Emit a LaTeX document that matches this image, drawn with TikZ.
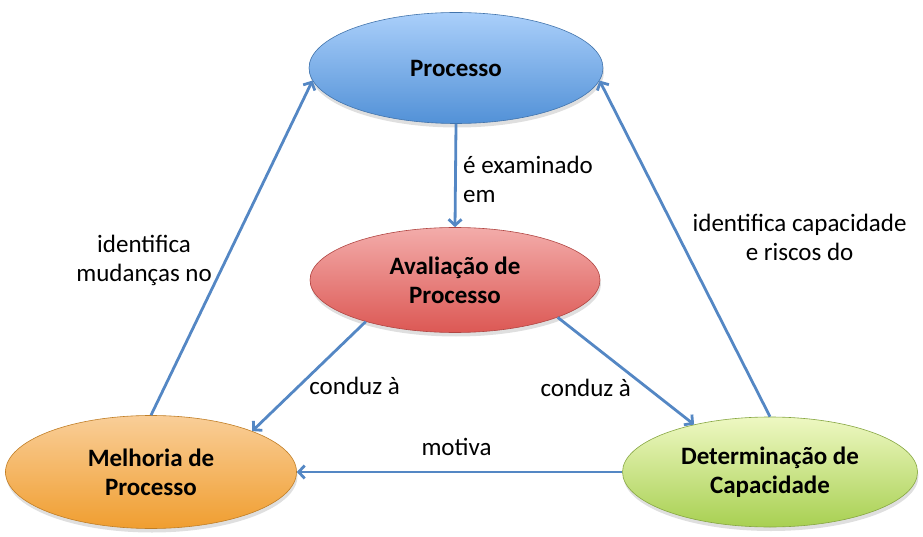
\documentclass[tikz,border=0pt]{standalone}
\usepackage{fontspec}
\setmainfont{Carlito}
\usepackage{xcolor}
\usetikzlibrary{shapes.geometric,shadows,arrows.meta}
\definecolor{linkblue}{RGB}{84,135,196}
\definecolor{procTop}{RGB}{170,207,250}
\definecolor{procBot}{RGB}{82,145,215}
\definecolor{avalTop}{RGB}{243,172,170}
\definecolor{avalBot}{RGB}{220,88,84}
\definecolor{melhTop}{RGB}{249,206,152}
\definecolor{melhBot}{RGB}{240,158,48}
\definecolor{detTop}{RGB}{238,248,194}
\definecolor{detBot}{RGB}{168,208,82}
\tikzset{
  blob/.style={ellipse, inner sep=0pt, align=center, font=\fontsize{25}{29}\selectfont\bfseries,
    line width=0.6pt, text=black,
    drop shadow={opacity=0.25, shadow xshift=1pt, shadow yshift=-4pt}},
  link/.style={->, line width=2.8pt, draw=linkblue},
  lbl/.style={font=\fontsize{25}{29}\selectfont, align=center, text=black}
}

\begin{document}
\begin{tikzpicture}[x=1pt, y=-1pt, >={Straight Barb[length=6pt, width=13pt]}]
      \useasboundingbox (0, 0) rectangle (923, 537);
      \node[blob, draw=procBot!80!black, top color=procTop, bottom color=procBot, minimum width=294pt, minimum height=111pt] (P) at (456, 68) {Processo};
      \node[blob, draw=avalBot!80!black, top color=avalTop, bottom color=avalBot, minimum width=290pt, minimum height=105pt] (A) at (455, 280) {Avaliação de\\Processo};
      \node[blob, draw=melhBot!80!black, top color=melhTop, bottom color=melhBot, minimum width=291pt, minimum height=113pt] (M) at (151, 472) {Melhoria de\\Processo};
      \node[blob, draw=detBot!80!black, top color=detTop, bottom color=detBot, minimum width=295pt, minimum height=110pt] (D) at (770, 472) {Determinação de\\Capacidade};
      \draw[link] (P.south) to node[lbl, pos=0.55, right, align=left, xshift=3pt, yshift=1pt] (lblPA) {é examinado\\em} (A.north);
      \draw[link] (M.north) to node[lbl, pos=0.48, left, xshift=-12pt, yshift=-6pt] (lblMP) {identifica\\mudanças no} (P.185);
      \draw[link] (D.north) to node[lbl, pos=0.54, right, xshift=10pt, yshift=-2pt] (lblDP) {identifica capacidade\\e riscos do} (P.355);
      \draw[link] (A.205) to node[lbl, pos=0.6, right, xshift=7pt, yshift=1pt] (lblAM) {conduz à} (M.22);
      \draw[link] (A.340) to node[lbl, pos=0.66, left, xshift=-12pt] (lblAD) {conduz à} (D.148);
      \draw[link] (D.west) to node[lbl, midway, above, yshift=12pt, xshift=-3pt] (lblDM) {motiva} (M.east);
    \end{tikzpicture}
\end{document}
